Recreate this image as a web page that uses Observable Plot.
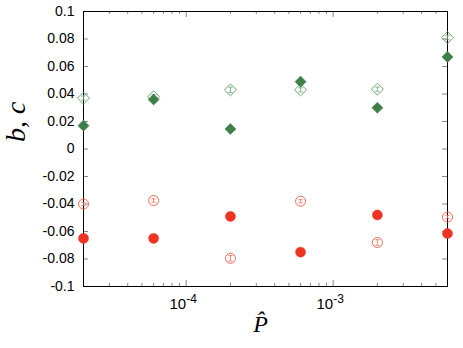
<!DOCTYPE html>
<html><head><meta charset="utf-8">
<script src="https://cdn.jsdelivr.net/npm/d3@7"></script>
<script src="https://cdn.jsdelivr.net/npm/@observablehq/plot@0.6"></script>
<style>body{margin:0;background:#fff}</style>
</head><body><div id="chart"></div>
<script>
// data
const P = [2e-5, 6e-5, 2e-4, 6e-4, 2e-3, 6e-3];
const cOpen = [0.037, 0.038, 0.043, 0.043, 0.0435, 0.081];
const cFilled = [0.017, 0.036, 0.0145, 0.049, 0.030, 0.067];
const bOpen = [-0.040, -0.0375, -0.0795, -0.038, -0.068, -0.0495];
const bFilled = [-0.065, -0.065, -0.049, -0.075, -0.048, -0.0615];
const cErr = [0.0015, 0.0015, 0.002, 0.0015, 0.0015, 0.0015];
const bErr = [0.0012, 0.0012, 0.002, 0.0012, 0.002, 0.0012];
const yTicks = [-0.1, -0.08, -0.06, -0.04, -0.02, 0, 0.02, 0.04, 0.06, 0.08, 0.1];
const xMajor = [1e-4, 1e-3];
const xMajorExp = ["-4", "-3"];
const xMinor = [2e-5,3e-5,4e-5,5e-5,6e-5,7e-5,8e-5,9e-5,2e-4,3e-4,4e-4,5e-4,6e-4,7e-4,8e-4,9e-4,2e-3,3e-3,4e-3,5e-3,6e-3];

const rows = P.map((p, i) => ({p, cO: cOpen[i], cF: cFilled[i], bO: bOpen[i], bF: bFilled[i], ce: cErr[i], be: bErr[i]}));

const W = 463, H = 348, mL = 83, mR = 16, mT = 11, mB = 62;
const pw = W - mL - mR, ph = H - mT - mB;

const green = "#3f7f4a", greenO = "#6aa874", red = "#ee3322", redO = "#f06a58", tickC = "#888";
const cap = {draw(ctx) { ctx.moveTo(-2.2, 0); ctx.lineTo(2.2, 0); }};
const serif = "'Liberation Serif', 'Times New Roman', serif";

const plot = Plot.plot({
  width: W, height: H,
  marginLeft: mL, marginRight: mR, marginTop: mT, marginBottom: mB,
  style: {fontFamily: "'Liberation Sans', Arial, sans-serif", fontSize: "14px", color: "#000", background: "#fff"},
  x: {type: "log", domain: [2e-5, 6e-3], axis: null},
  y: {domain: [-0.1, 0.1], ticks: yTicks, label: null, tickSize: 0, tickPadding: 9, tickFormat: d => String(+d.toFixed(2))},
  marks: [
    // inward tick marks
    Plot.tickY(yTicks, {y: d => d, insetRight: pw - 5, stroke: tickC}),
    Plot.tickY(yTicks, {y: d => d, insetLeft: pw - 5, stroke: tickC}),
    Plot.tickX(xMinor, {x: d => d, insetTop: ph - 3, stroke: tickC}),
    Plot.tickX(xMinor, {x: d => d, insetBottom: ph - 3, stroke: tickC}),
    Plot.tickX(xMajor, {x: d => d, insetTop: ph - 6, stroke: tickC}),
    Plot.tickX(xMajor, {x: d => d, insetBottom: ph - 6, stroke: tickC}),
    Plot.frame({stroke: "#000"}),
    // x tick labels 10^n
    Plot.text(xMajor, {x: d => d, frameAnchor: "bottom", text: () => "10", textAnchor: "end", dy: 18, lineAnchor: "middle", fontSize: 15}),
    Plot.text(xMajor, {x: d => d, frameAnchor: "bottom", text: (d, i) => xMajorExp[i], textAnchor: "start", dy: 13, lineAnchor: "middle", fontSize: 12}),
    // error bars
    Plot.ruleX(rows, {x: "p", y1: d => d.cO - d.ce, y2: d => d.cO + d.ce, stroke: greenO, strokeWidth: 0.8}),
    Plot.dot(rows, {x: "p", y: d => d.cO - d.ce, symbol: cap, stroke: greenO, strokeWidth: 0.8, r: 2}),
    Plot.dot(rows, {x: "p", y: d => d.cO + d.ce, symbol: cap, stroke: greenO, strokeWidth: 0.8, r: 2}),
    Plot.ruleX(rows, {x: "p", y1: d => d.bO - d.be, y2: d => d.bO + d.be, stroke: redO, strokeWidth: 0.8}),
    Plot.dot(rows, {x: "p", y: d => d.bO - d.be, symbol: cap, stroke: redO, strokeWidth: 0.8, r: 2}),
    Plot.dot(rows, {x: "p", y: d => d.bO + d.be, symbol: cap, stroke: redO, strokeWidth: 0.8, r: 2}),
    // markers
    Plot.dot(rows, {x: "p", y: "cO", symbol: "diamond2", r: 5.4, stroke: greenO, strokeWidth: 1, fill: "none"}),
    Plot.dot(rows, {x: "p", y: "cF", symbol: "diamond2", r: 5, fill: green, stroke: green, strokeWidth: 0.5}),
    Plot.dot(rows, {x: "p", y: "bO", symbol: "circle", r: 5, stroke: redO, strokeWidth: 1, fill: "none"}),
    Plot.dot(rows, {x: "p", y: "bF", symbol: "circle", r: 5, fill: red, stroke: red, strokeWidth: 0.5}),
    // axis titles
    Plot.text([0], {frameAnchor: "left", text: () => "b, c", rotate: -90, dx: -67, dy: -7, fontFamily: serif, fontStyle: "italic", fontSize: 28}),
    Plot.text([0], {frameAnchor: "bottom", text: () => "P\u0302", dx: -5, dy: 45, fontFamily: serif, fontStyle: "italic", fontSize: 24})
  ]
});
document.getElementById("chart").appendChild(plot);
</script>
</body></html>
